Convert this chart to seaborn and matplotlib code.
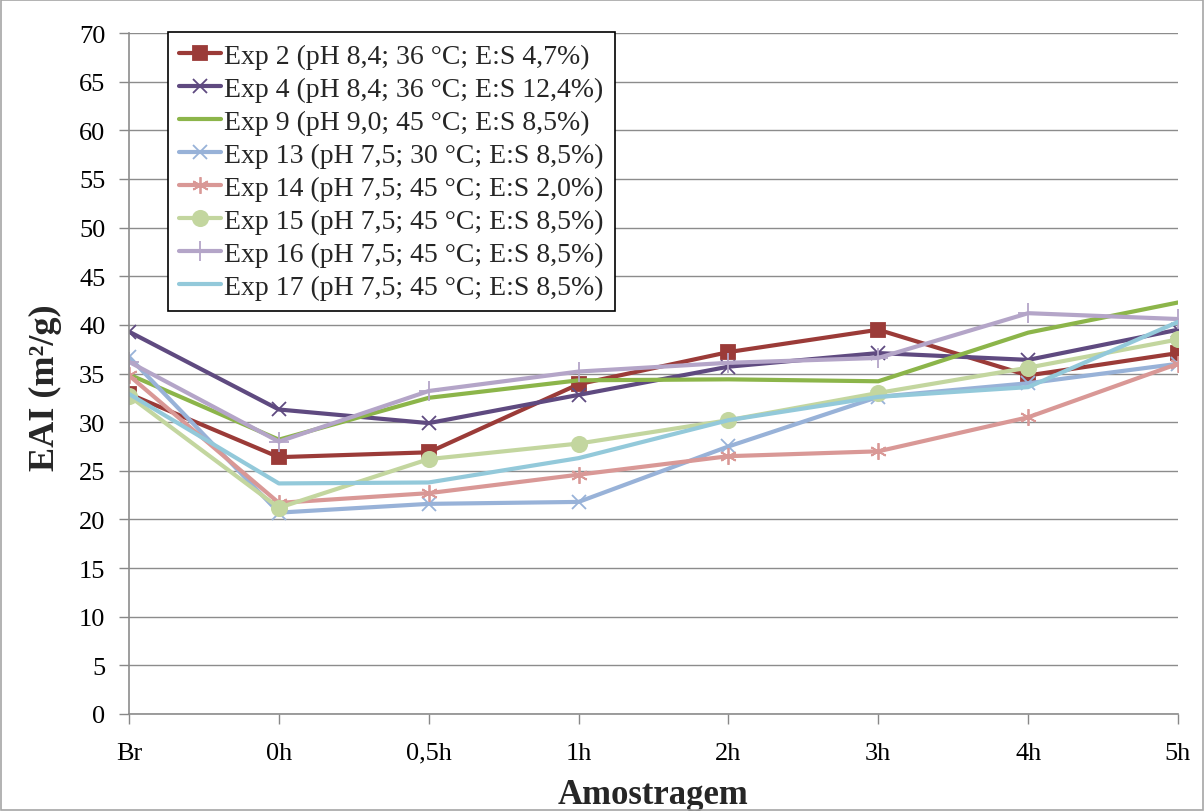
import matplotlib
matplotlib.use("Agg")
import matplotlib.pyplot as plt
import seaborn as sns
import pandas as pd
import numpy as np

categories = ["Br", "0h", "0,5h", "1h", "2h", "3h", "4h", "5h"]

exp2 = [32.9, 26.4, 26.9, 33.9, 37.2, 39.5, 34.8, 37.1]
exp4 = [39.3, 31.3, 29.9, 32.8, 35.7, 37.1, 36.4, 39.5]
exp9 = [34.9, 28.2, 32.5, 34.3, 34.4, 34.2, 39.2, 42.3]
exp13 = [36.7, 20.7, 21.6, 21.8, 27.5, 32.6, 34.0, 36.0]
exp14 = [34.8, 21.7, 22.7, 24.6, 26.5, 27.0, 30.5, 36.0]
exp15 = [32.7, 21.2, 26.2, 27.8, 30.2, 33.0, 35.6, 38.5]
exp16 = [36.2, 28.0, 33.2, 35.2, 36.1, 36.6, 41.2, 40.6]
exp17 = [32.9, 23.7, 23.8, 26.3, 30.2, 32.6, 33.6, 40.3]

labels = [
    "Exp 2 (pH 8,4; 36 °C; E:S 4,7%)",
    "Exp 4 (pH 8,4; 36 °C; E:S 12,4%)",
    "Exp 9 (pH 9,0; 45 °C; E:S 8,5%)",
    "Exp 13 (pH 7,5; 30 °C; E:S 8,5%)",
    "Exp 14 (pH 7,5; 45 °C; E:S 2,0%)",
    "Exp 15 (pH 7,5; 45 °C; E:S 8,5%)",
    "Exp 16 (pH 7,5; 45 °C; E:S 8,5%)",
    "Exp 17 (pH 7,5; 45 °C; E:S 8,5%)",
]
series = [exp2, exp4, exp9, exp13, exp14, exp15, exp16, exp17]

colors = ["#9B3B38", "#5F4A80", "#8CB54A", "#98B2D8", "#D99896",
          "#C3D69F", "#B4A5C8", "#93C9DA"]
markers = ["s", "x", "", "x", (6, 2, 0), "o", "+", ""]
msizes = [10, 10, 0, 10, 12, 11, 14, 0]

sns.set_theme(style="white")
plt.rcParams["font.family"] = ["Liberation Serif", "DejaVu Serif"]

fig = plt.figure(figsize=(12.04, 8.12), dpi=100)
ax = fig.add_axes([129 / 1204, 1 - 715 / 812, (1178 - 129) / 1204, (715 - 34) / 812])

x = np.arange(len(categories))
for vals, lab, col, mk, ms in zip(series, labels, colors, markers, msizes):
    df = pd.DataFrame({"x": x, "y": vals})
    kw = {}
    if mk:
        kw = dict(marker=mk, markersize=ms, markeredgecolor=col,
                  markerfacecolor=col, markeredgewidth=1.3)
    sns.lineplot(data=df, x="x", y="y", ax=ax, color=col, linewidth=3,
                 label=lab, **kw)

ax.set_xlim(0, len(categories) - 1)
ax.set_ylim(0, 70)
ax.set_yticks(np.arange(0, 71, 5))
ax.set_xticks(x)
ax.set_xticklabels(categories)
ax.tick_params(axis="both", labelsize=19, colors="#888888", labelcolor="black",
               length=7, width=1, direction="out")
ax.tick_params(axis="x", pad=13, bottom=True)
ax.tick_params(axis="y", left=True, pad=10)
ax.yaxis.grid(True, color="#8c8c8c", linewidth=1)
ax.xaxis.grid(False)
for side in ["top", "right"]:
    ax.spines[side].set_visible(False)
for side in ["left", "bottom"]:
    ax.spines[side].set_color("#8c8c8c")
    ax.spines[side].set_linewidth(1.2)
ax.set_axisbelow(True)

ax.set_xlabel("Amostragem", fontsize=25, fontweight="bold", labelpad=10)
ax.set_ylabel("EAI (m²/g)", fontsize=26, fontweight="bold")
ax.yaxis.set_label_coords(-0.064, 0.480)

leg = ax.legend(loc="upper left", bbox_to_anchor=(168 / 1204, 1 - 33 / 812),
                bbox_transform=fig.transFigure, fontsize=20, frameon=True,
                fancybox=False, edgecolor="black", handlelength=1.5,
                handletextpad=0.12, labelspacing=0.275, borderpad=0.4,
                borderaxespad=0)
leg.get_frame().set_linewidth(1.2)
leg.get_frame().set_facecolor("white")
leg.get_frame().set_alpha(1)

fig.patches.append(plt.Rectangle((0.001, 0.001), 0.998, 0.998,
                                 transform=fig.transFigure, fill=False,
                                 edgecolor="#a6a6a6", linewidth=1.2))

fig.savefig("out.png", dpi=100)
